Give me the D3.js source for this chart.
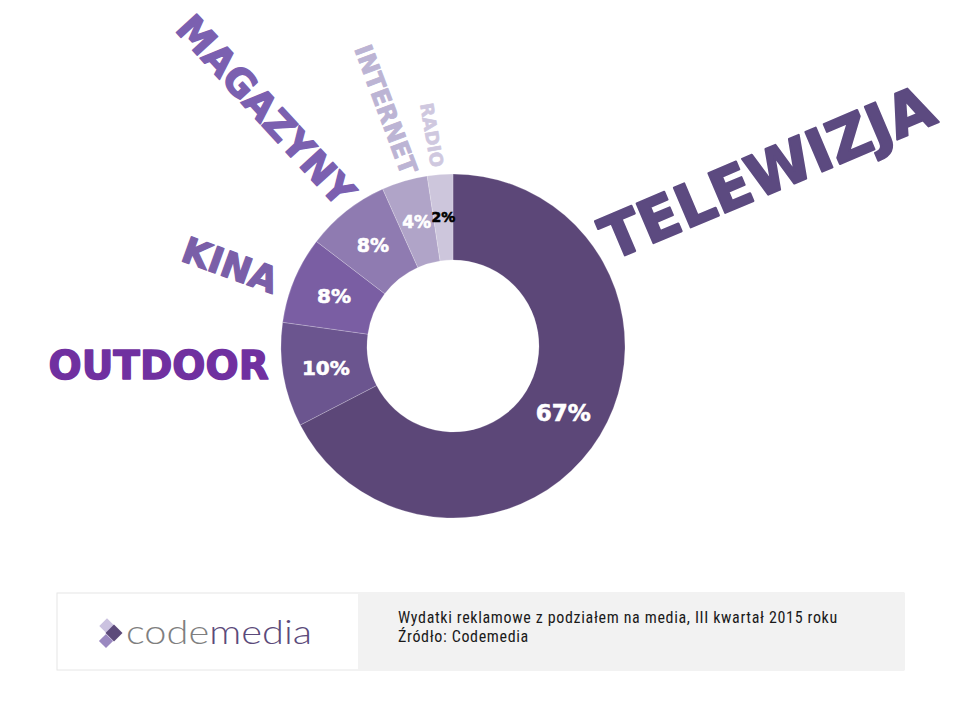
<!DOCTYPE html>
<html>
<head>
<meta charset="utf-8">
<script src="https://cdn.jsdelivr.net/npm/d3@7"></script>
<style>
  body { margin: 0; background: #fff; }
  svg { display: block; }
</style>
</head>
<body>
<svg id="chart"></svg>
<script>
// data
const categories = ['TELEWIZJA', 'OUTDOOR', 'KINA', 'MAGAZYNY', 'INTERNET', 'RADIO'];
const shares = [67.4, 9.8, 8.2, 7.9, 4.3, 2.4];
const sliceColors = ['#5c4778', '#6b558f', '#7a5ea3', '#8f7bb1', '#b0a4c8', '#cdc6dc'];

const footerLines = [
  'Wydatki reklamowe z podziałem na media, III kwartał 2015 roku',
  'Źródło: Codemedia'
];

// label layout (angle from 12 o'clock, distance from centre, rotation, font size, colour)
const labelLayout = {
  TELEWIZJA: {a: 61,    r: 359, rot: -23,  size: 59, color: '#5c4a80'},
  OUTDOOR:   {a: 266.3, r: 295, rot: 0,    size: 39, color: '#7030a0'},
  KINA:      {a: 290,   r: 237, rot: 20,   size: 36, color: '#7a5fa8'},
  MAGAZYNY:  {a: 321.6, r: 301, rot: 47.5, size: 38, color: '#7b60b0'},
  INTERNET:  {a: 344.2, r: 246, rot: 69.5, size: 24.5, color: '#bcb4d4'},
  RADIO:     {a: 354.3, r: 212, rot: 80,   size: 18, color: '#cfc8df'}
};

const width = 960, height = 720;
const cx = 453, cy = 346;
const outerR = 172, innerR = 86;

const svg = d3.select('#chart')
    .attr('width', width)
    .attr('height', height);

const chart = svg.append('g')
    .attr('transform', `translate(${cx},${cy})`);

const pie = d3.pie().sort(null).value(d => d.value);
const arc = d3.arc().innerRadius(innerR).outerRadius(outerR);

const data = categories.map((c, i) => ({name: c, value: shares[i], color: sliceColors[i]}));
const arcs = pie(data);

chart.selectAll('.slice')
    .data(arcs)
    .join('path')
    .attr('class', 'slice')
    .attr('d', arc)
    .attr('fill', d => d.data.color)
    .attr('stroke', 'rgba(255,255,255,0.35)')
    .attr('stroke-width', 0.6);

// percent labels in slices
const pctSize = [23, 20, 20, 19, 17, 14];
chart.selectAll('.pct')
    .data(arcs)
    .join('text')
    .attr('class', 'pct')
    .attr('transform', d => `translate(${arc.centroid(d)})`)
    .attr('text-anchor', 'middle')
    .attr('dy', '0.36em')
    .attr('font-family', 'DejaVu Sans, sans-serif')
    .attr('font-weight', 'bold')
    .attr('font-size', (d, i) => pctSize[i])
    .attr('fill', (d, i) => i === arcs.length - 1 ? '#000' : '#fff')
    .attr('stroke', (d, i) => i === arcs.length - 1 ? '#000' : '#fff')
    .attr('stroke-width', 0.6)
    .text(d => Math.round(d.data.value) + '%');

// category names around the ring
chart.selectAll('.cat')
    .data(categories)
    .join('text')
    .attr('class', 'cat')
    .attr('transform', d => {
      const L = labelLayout[d];
      const t = L.a * Math.PI / 180;
      return `translate(${L.r * Math.sin(t)},${-L.r * Math.cos(t)}) rotate(${L.rot})`;
    })
    .attr('text-anchor', 'middle')
    .attr('dy', '0.36em')
    .attr('font-family', 'DejaVu Sans, sans-serif')
    .attr('font-weight', 'bold')
    .attr('font-size', d => labelLayout[d].size)
    .attr('fill', d => labelLayout[d].color)
    .attr('stroke', d => labelLayout[d].color)
    .attr('stroke-width', d => labelLayout[d].size / 28)
    .attr('stroke-linejoin', 'round')
    .text(d => d);

// footer box
const footer = svg.append('g');
footer.append('rect')
    .attr('x', 57).attr('y', 593)
    .attr('width', 847).attr('height', 77)
    .attr('fill', '#fff')
    .attr('stroke', '#e6e6e6');
footer.append('rect')
    .attr('x', 358).attr('y', 593)
    .attr('width', 546).attr('height', 77)
    .attr('fill', '#f2f2f2');

footer.selectAll('.ftxt')
    .data(footerLines)
    .join('text')
    .attr('class', 'ftxt')
    .attr('x', 398)
    .attr('y', (d, i) => 623 + i * 19)
    .attr('font-family', 'Liberation Sans Narrow, Roboto Condensed, Liberation Sans, sans-serif')
    .attr('font-size', 16)
    .attr('letter-spacing', 0.65)
    .attr('fill', '#1a1a1a')
    .text(d => d);

// logo
const logo = footer.append('g');
const sq = [
  {x: 107, y: 626, s: 11, c: '#cbc2e0'},
  {x: 114, y: 633, s: 12, c: '#5c4a7a'},
  {x: 106, y: 641, s: 10, c: '#9a88c0'}
];
logo.selectAll('rect')
    .data(sq)
    .join('rect')
    .attr('x', d => -d.s / 2).attr('y', d => -d.s / 2)
    .attr('width', d => d.s).attr('height', d => d.s)
    .attr('fill', d => d.c)
    .attr('transform', d => `translate(${d.x},${d.y}) rotate(45)`);

const logoText = logo.append('text')
    .attr('x', 126)
    .attr('y', 644)
    .attr('font-family', 'Lato, Open Sans, sans-serif')
    .attr('font-weight', 300)
    .attr('font-size', 33)
    .attr('textLength', 186)
    .attr('lengthAdjust', 'spacingAndGlyphs');
logoText.append('tspan').attr('fill', '#7f7f7f').text('code');
logoText.append('tspan').attr('fill', '#5b4a7a').text('media');
</script>
</body>
</html>
